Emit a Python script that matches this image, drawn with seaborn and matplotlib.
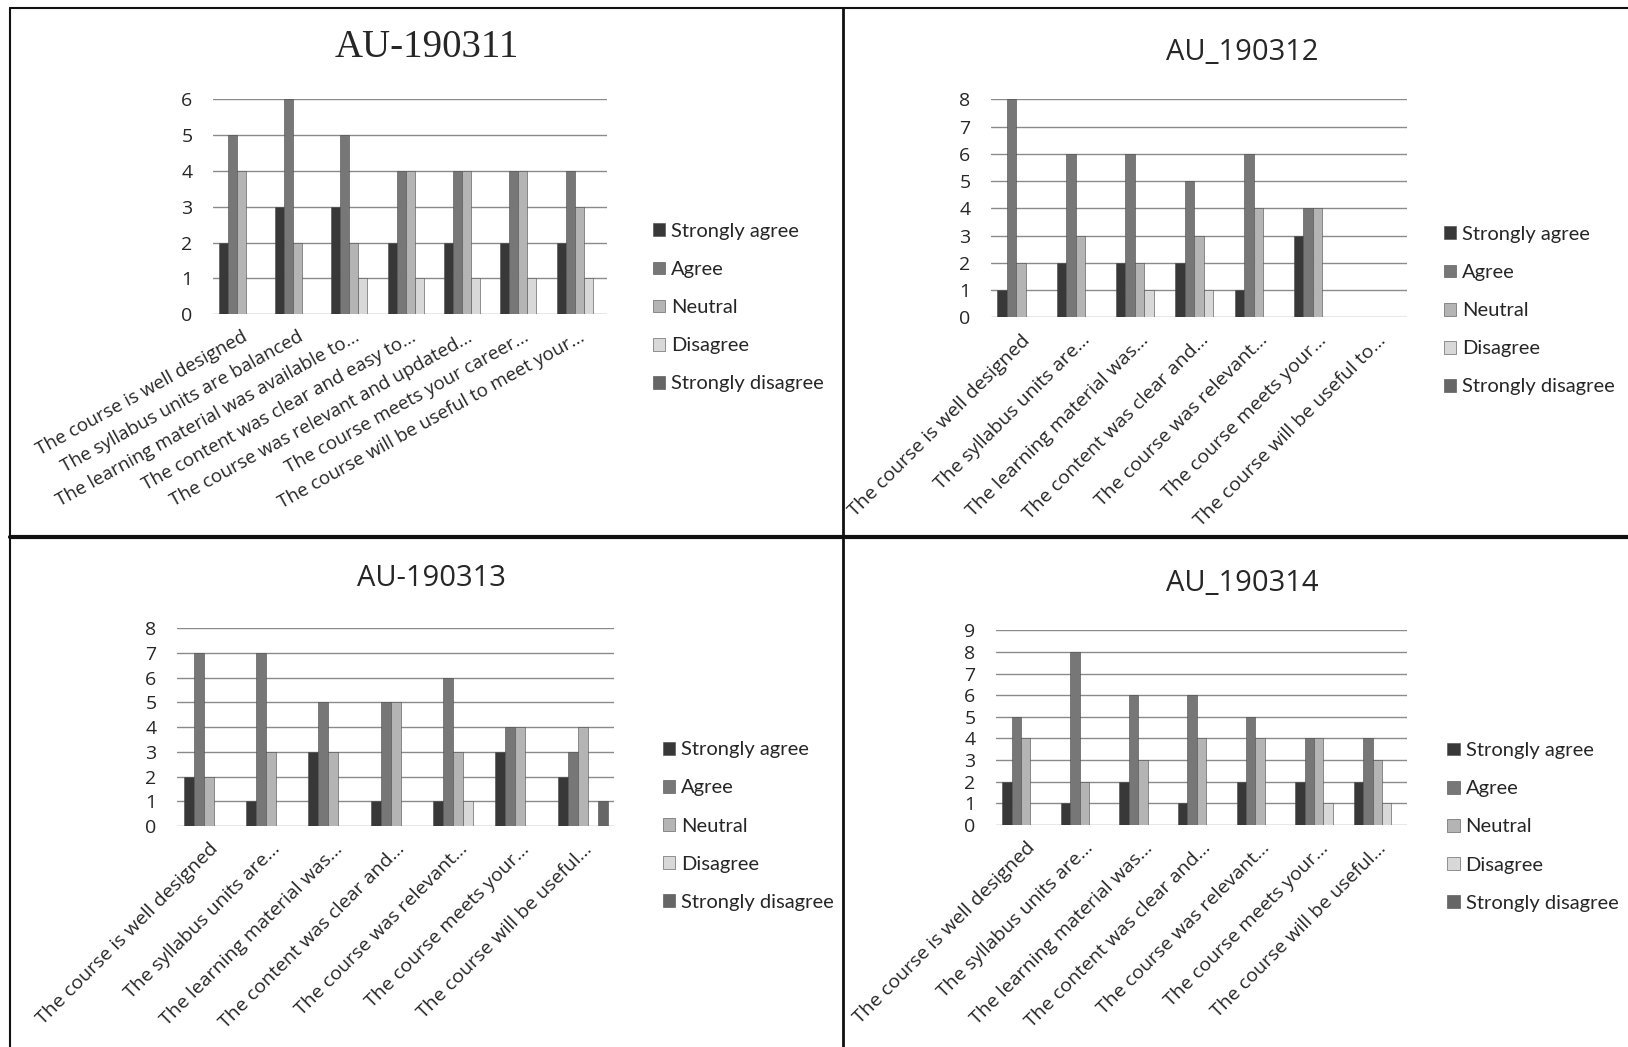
import matplotlib
matplotlib.use('Agg')
from matplotlib import pyplot as plt
from matplotlib.lines import Line2D
import pandas as pd
import seaborn as sns

# survey answers per course, 7 questions each
responses = ['Strongly agree', 'Agree', 'Neutral', 'Disagree', 'Strongly disagree']

labels_311 = ['The course is well designed', 'The syllabus units are balanced',
              'The learning material was available to...', 'The content was clear and easy to...',
              'The course was relevant and updated...', 'The course meets your career...',
              'The course will be useful to meet your...']
labels_312 = ['The course is well designed', 'The syllabus units are...',
              'The learning material was...', 'The content was clear and...',
              'The course was relevant...', 'The course meets your...',
              'The course will be useful to...']
labels_313 = ['The course is well designed', 'The syllabus units are...',
              'The learning material was...', 'The content was clear and...',
              'The course was relevant...', 'The course meets your...',
              'The course will be useful...']

# AU-190311
sa_311 = [2, 3, 3, 2, 2, 2, 2]
ag_311 = [5, 6, 5, 4, 4, 4, 4]
ne_311 = [4, 2, 2, 4, 4, 4, 3]
di_311 = [0, 0, 1, 1, 1, 1, 1]
sd_311 = [0, 0, 0, 0, 0, 0, 0]

# AU_190312
sa_312 = [1, 2, 2, 2, 1, 3, 0]
ag_312 = [8, 6, 6, 5, 6, 4, 0]
ne_312 = [2, 3, 2, 3, 4, 4, 0]
di_312 = [0, 0, 1, 1, 0, 0, 0]
sd_312 = [0, 0, 0, 0, 0, 0, 0]

# AU-190313
sa_313 = [2, 1, 3, 1, 1, 3, 2]
ag_313 = [7, 7, 5, 5, 6, 4, 3]
ne_313 = [2, 3, 3, 5, 3, 4, 4]
di_313 = [0, 0, 0, 0, 1, 0, 0]
sd_313 = [0, 0, 0, 0, 0, 0, 1]

# AU_190314
sa_314 = [2, 1, 2, 1, 2, 2, 2]
ag_314 = [5, 8, 6, 6, 5, 4, 4]
ne_314 = [4, 2, 3, 4, 4, 4, 3]
di_314 = [0, 0, 0, 0, 0, 1, 1]
sd_314 = [0, 0, 0, 0, 0, 0, 0]

grays = ['#383838', '#777777', '#b4b4b4', '#d8d8d8', '#666666']

sns.set_style('white')
plt.rcParams['font.family'] = ['Open Sans', 'DejaVu Sans']


def make_df(labels, series):
    rows = []
    for resp, vals in zip(responses, series):
        for lab, v in zip(labels, vals):
            rows.append({'Question': lab, 'Response': resp, 'Count': v})
    return pd.DataFrame(rows)


def draw(ax, labels, series, ymax, rot, tick_fs, leg_xy):
    df = make_df(labels, series)
    sns.barplot(data=df, x='Question', y='Count', hue='Response', hue_order=responses,
                palette=grays, width=0.8, ax=ax, edgecolor='#4a4a4a', linewidth=0.4)
    ax.set_ylim(0, ymax)
    ax.set_yticks(range(0, ymax + 1))
    ax.set_xlim(-0.5, len(labels) - 0.5)
    ax.yaxis.grid(True, color='#8a8a8a', linewidth=1.0)
    ax.set_axisbelow(True)
    for s in ax.spines.values():
        s.set_visible(False)
    ax.tick_params(axis='both', length=0)
    ax.tick_params(axis='y', labelsize=14, pad=15)
    ax.set_xticks(range(len(labels)))
    ax.set_xticklabels(labels, rotation=rot, ha='right', rotation_mode='anchor', fontsize=tick_fs)
    ax.tick_params(axis='x', pad=10)
    ax.set_xlabel('')
    ax.set_ylabel('')
    h, l = ax.get_legend_handles_labels()
    ax.legend(h, l, loc='center left', bbox_to_anchor=leg_xy, frameon=False,
              prop={'family': 'Lato', 'size': 14.5},
              handlelength=0.6, handleheight=0.6, handletextpad=0.3, labelspacing=1.05,
              borderpad=0)


fig = plt.figure(figsize=(16.28, 10.47), dpi=100)

ax1 = fig.add_axes([0.131, 0.700, 0.242, 0.205])
draw(ax1, labels_311, [sa_311, ag_311, ne_311, di_311, sd_311], 6, 29, 13.5, (1.09, 0.03))
ax2 = fig.add_axes([0.609, 0.697, 0.255, 0.208])
draw(ax2, labels_312, [sa_312, ag_312, ne_312, di_312, sd_312], 8, 45, 14, (1.065, 0.03))
ax3 = fig.add_axes([0.109, 0.211, 0.268, 0.189])
draw(ax3, labels_313, [sa_313, ag_313, ne_313, di_313, sd_313], 8, 45, 14, (1.09, 0.0))
ax4 = fig.add_axes([0.612, 0.212, 0.252, 0.186])
draw(ax4, labels_313, [sa_314, ag_314, ne_314, di_314, sd_314], 9, 45, 14, (1.075, -0.01))

fig.text(0.262, 0.955, 'AU-190311', ha='center', va='center', fontsize=28,
         family='Liberation Serif')
fig.text(0.763, 0.950, 'AU_190312', ha='center', va='center', fontsize=21)
fig.text(0.265, 0.447, 'AU-190313', ha='center', va='center', fontsize=21)
fig.text(0.763, 0.443, 'AU_190314', ha='center', va='center', fontsize=21)

# page frame of the scanned sheet
for xs, ys, lw in [([0.006, 1.0], [0.992, 0.992], 1.5),
                   ([0.006, 0.006], [0.0, 0.992], 1.5),
                   ([0.518, 0.518], [0.0, 0.992], 2.0),
                   ([0.006, 1.0], [0.487, 0.487], 3.0)]:
    fig.add_artist(Line2D(xs, ys, color='#111111', linewidth=lw))

fig.savefig('out.png', dpi=100, facecolor='white')
